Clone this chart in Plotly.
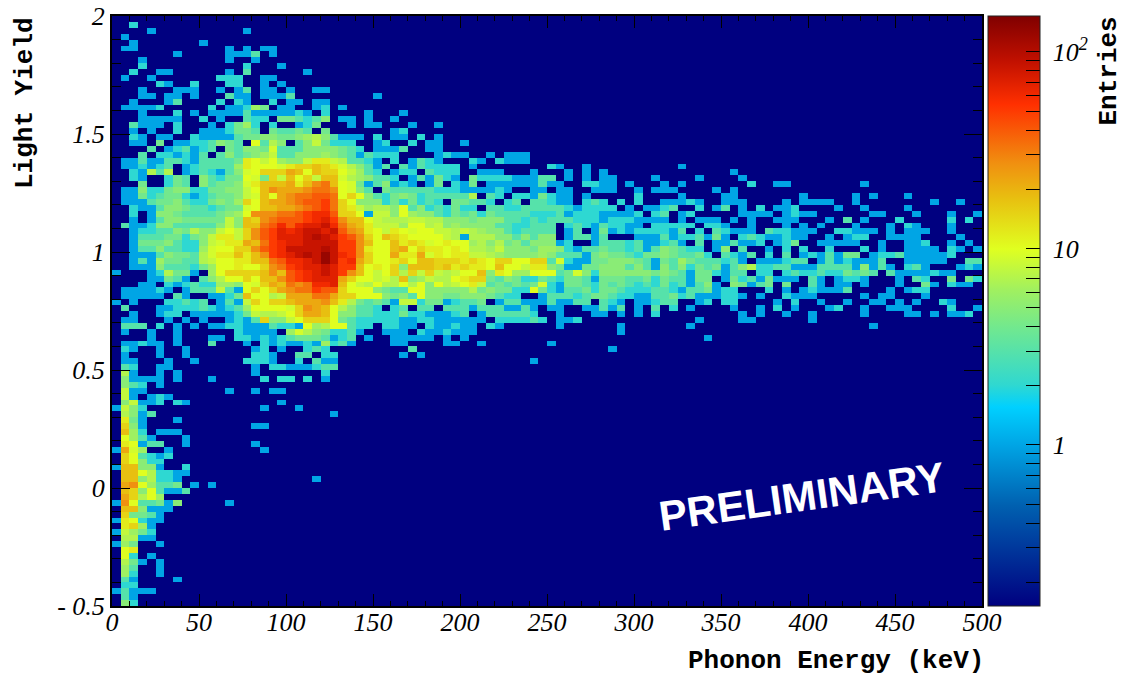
import math
import plotly.graph_objects as go

# One string per y bin, top row first. Space-separated chunks of 10 x bins (5 keV each).
# Short chunks are padded with empty bins. Symbols index into ENTRY_LEVELS.
ROWS = [
"",
"..2",
"....1..... .....1",
".1",
"..1....... 1",
".11....... ...1.1.11",
".......1.. ...1113.1.",
"...1...... ...1..1...",
"...2...... .....2...1",
"..2..11... ...1.3.... ..1",
".1..1..... ..222..11.",
".....21..2 ...22..1.1",
"...1...111 ..1.13.11. 1..11.....",
"...11.11.1 ...311.111 3......... 1",
"..1...13.. ..2.21..2. 11.11.....",
".11112.... .2.11264.1 1..12.1...",
"...1...2.1 .111131111 121.2....1 ...1",
"...11111.. 2.1..322.4 43235.11.1 ..1",
"..3111.2.. .1.2462.2. .124...1.1 1...1..1",
"..1.1..2.. 1112443.43 343.4..... ..12",
"..21.11..2 1111344554 456753111. 2.11.2.1",
"..11.4.112 23543.a375 .3584222.. 12..2.11.. 1",
"....3.1231 23.4355493 335555432. 1113..11..",
"...3.22121 3.35345683 3555654313 222....121 1..1.111",
".113113321 33334ba8a6 558bb87332 1.2.1321.. .21.2111..",
".112123.12 33336baaa9 bccdcb9753 13.3132222 .1 21..1 .....1",
"..21737.12 321359accc edadcca863 2.122.3222 ..111...1. ..1.1.1 . .1",
"..21..243. 53244a94c8 dac8dd9765 332.131421 .422221113 3.1.1.11 ..1....1 ..1",
"...4..243. 534459bddd ebdfgda941 35121.14.2 14.1111113 11..2211.1 ...1.1 ...2..11 ......1",
".115224552 244558adfe eefggfa953 .433333222 111121..11 .11..111 1.111....1 .1",
".114234421 2344589dae fgghhgaca5 3245423333 37.32.2214 211.1 2....1 11.......1 .....1.1 .1",
".111344532 24546cadee fghhigca55 52424232.4 4332.23.33 211.232.2. 2..11121 111....1.1 111..1 ....1..1",
"..21135543 323449adde efghigcb86 775a352324 22.3322333 33212222.1 .1123..2.1 3.1.2.112 ...1..1 .1",
"..2.155433 33456afffg ghijjhcca1 885a655324 3424333322 2312221111 2.23.12 ..1111.121 1......11 ..1...1..1",
"..1.135544 44485dcfgh hhijkifdda 8777887755 5455533232 3332221222 1111.1.111 .1.1..111 ..1.3.1 2.....2.2",
".311255333 33585ddghj hjkkljgedb 8886aa7856 5555332233 3.23213221 1.22222.22 1..1...1.1 .1...1...1 .21...1",
"..12233547 558a8cfhik jkllklhfeb a8ba9aa887 8765532333 3.13.14121 222213.2.3 2111.32211 1..22111.1 .111..1",
"..13334424 58bb8cfhik kklmlkihfc adcbaaaa87 1777553535 5.13313... 1113122314 1.23211211 ..1.122..1 111....1",
"..14445322 589bbedgij kklllliifd aadbcb9aba a675745355 512..13332 311231.3.1 13112.124. .11111..1. .112..1.1",
"..13353322 69aaccfhij llllmliifb aadeacbbab a776855546 6521334332 31354322.1 5.3..1.2.2 ..2...2.1 .1111.21.1",
"..11135443 79bbdbdfij klmlnljifc aaebbe9bab b887655556 5333145443 244543342. 3213.2.3.1 213144.122 3111112",
"..13164433 78aabbddgh jjklnlijec aabcaddccc bcbaccaacc 3921144555 4314364333 231.111233 .13121113. .11111..33",
"..11153332 46aabaacfg ijkklkiida bac5dddcdb cbbadaa8bb 5411445553 5315352434 1357223311 1333315131 .231...121",
"1...127441 .6accccdfd hijklkifda 8ac7c8c878 aad5ba66aa a349525555 5545431442 133.22.232 23224343.3 1111211",
"....11431. 357aacaddf hijkkkecaa 897d56877a bcc4354224 3244314443 342433144. 142314111. 31.1221 1.32..4.42",
"...11.2123 22665a9ced gfgjjkda87 a77a7a5a78 ab83434349 2144324343 2324231351 .54134.4 31.11.1 1..41.211",
".111121.13 33831acace fggihhcaaa 5433aa5555 57454422a4 2133424432 2233213341 22...2.1.1 21113....1 .122",
".11111.31. .1124daa78 eeeggeccaa a5453a5544 5554322..1 3332344322 1133423111 221.1..211 1.....1.11 ...1",
"1.1...2232 3.1318cacc deeefdb743 4318824412 334.133111 31133.321. 11233..12. 22....1.2. .1..1..11. 1.1..21",
".3...11222 321236aaaa 9cfeda7533 2.23.33.33 313331131. 11..11313. 1.3.2.1... .1..1.2.1. ..12..1..1 11....2..1",
"..1..122.1 1111248778 aceeda5533 2224221112 3.1333332. .1...11.1. 1.2....... ..1.1..1 1.....1 .11.1.112",
".11...1.1. 1..1213c55 8accca4322 2221122111 111.222232 .112 .......1 ..11 1",
".333.2.1.1 .112211132 21a67aa322 .2211.2112 11.21 .1......1 ......1 . .......1",
".1..1..1.. ....21111. 697542231. .111.21121 11 ........1",
"....1..1.. .11.221212 34443123.1 ..11111.1 1 . ........1",
".11211.1 .3...1.212 11216231.. ..11....11 ..1 1",
".21..1..1. ......12.1 ..232 ....3 . .......1",
".1...1..1. ......221. .33.22 ...1.1",
".11...1..1 .....2221 .2.311 . ........1",
".32..11 ......1.22 111233",
".71..1.1 ......1 ....2",
".51111.1 .1.....2.2 2.2.1",
".532.1",
".811 ...1..1.11",
".81.121",
".58112.21 .........1",
"1852 .......1 .1",
".7513 . .....1",
".b41...1",
".c51 ......11",
".d62.111",
".a631...1",
".ba133..1 ......1",
"1e96..1 .......1",
".ca3212...1",
".ca522",
"1dd551..2.1",
".dda72211",
".dd57221 . ...1",
".efa6334.1 .1",
".dc5a3113",
".ec7a6",
"1fa33415 ...1",
".dd5111",
".c4431",
"1ba211",
".bc61",
"18642",
".7711",
"164..1",
".ab",
".a2.1",
".741.1",
".63..1",
".62..1",
".31....1",
".22",
"13111",
".31",
".52",
]

ENTRY_LEVELS = {
    ".": None, "1": 1, "2": 2, "3": 3, "4": 4, "5": 5, "6": 6, "7": 7, "8": 8, "9": 9,
    "a": 10, "b": 12, "c": 15, "d": 18, "e": 22, "f": 27, "g": 33, "h": 40, "i": 50,
    "j": 60, "k": 70, "l": 85, "m": 100, "n": 125,
}

X_EDGES_MAX = 500
Y_MIN, Y_MAX = -0.5, 2.0
N_BINS = 100
X_TICKS = [0, 50, 100, 150, 200, 250, 300, 350, 400, 450, 500]
Y_TICKS = [-0.5, 0, 0.5, 1, 1.5, 2]
Y_TICK_TEXT = ["- 0.5", "0", "0.5", "1", "1.5", "2"]
CB_MAJOR = [1, 10, 100]
CB_MAJOR_TEXT = ["\u00a01", "\u00a010", "\u00a010<sup>2</sup>"]
CB_MINOR = [0.2, 0.3, 0.4, 0.5, 0.6, 0.7, 0.8, 0.9, 2, 3, 4, 5, 6, 7, 8, 9,
            20, 30, 40, 50, 60, 70, 80, 90]
LOG_MIN, LOG_MAX = -0.82, 2.183

COLORSCALE = [
    [0.0, "#000080"], [0.17, "#0060b0"], [0.273, "#00a5e5"], [0.337, "#00d0ff"],
    [0.375, "#30d8d0"], [0.47, "#70e890"], [0.535, "#a0f060"], [0.605, "#e0ff20"],
    [0.69, "#e8c010"], [0.75, "#f09010"], [0.85, "#ff3000"], [0.925, "#c01000"],
    [1.0, "#800000"],
]

W, H = 1124, 676
L, R, T, B = 112, 982, 16, 606


def decode(row):
    chunks = row.split(" ") if row else []
    cells = []
    for i in range(10):
        chunk = (chunks[i] if i < len(chunks) else "").ljust(10, ".")[:10]
        cells.extend(ENTRY_LEVELS[ch] for ch in chunk)
    return cells


grid = [decode(r) for r in ROWS]
grid += [[None] * N_BINS for _ in range(N_BINS - len(grid))]
z = [[None if v is None else math.log10(v) for v in row] for row in reversed(grid)]
x_centers = [(i + 0.5) * X_EDGES_MAX / N_BINS for i in range(N_BINS)]
y_centers = [Y_MIN + (i + 0.5) * (Y_MAX - Y_MIN) / N_BINS for i in range(N_BINS)]

cb_vals = [math.log10(v) for v in CB_MINOR + CB_MAJOR]
cb_text = [""] * len(CB_MINOR) + CB_MAJOR_TEXT

SERIF = "Liberation Serif"
MONO = "Liberation Mono"

fig = go.Figure(go.Heatmap(
    x=x_centers, y=y_centers, z=z,
    zmin=LOG_MIN, zmax=LOG_MAX, colorscale=COLORSCALE, hoverongaps=False,
    colorbar=dict(
        thickness=52, thicknessmode="pixels", len=B - T, lenmode="pixels",
        x=(988 - L) / (R - L), xanchor="left", xpad=0,
        y=0, yanchor="bottom", ypad=0,
        outlinecolor="#222222", outlinewidth=1, bordercolor="rgba(0,0,0,0)",
        tickmode="array", tickvals=cb_vals, ticktext=cb_text,
        ticks="inside", ticklen=14, tickwidth=1, tickcolor="black",
        tickfont=dict(family=SERIF, size=26, style="italic", color="black"),
    ),
))

axis_common = dict(showgrid=False, zeroline=False, showline=True, linecolor="black",
                   linewidth=2, mirror="allticks", ticks="inside", tickcolor="black",
                   tickwidth=1,
                   tickfont=dict(family=SERIF, size=26, style="italic", color="black"))
fig.update_xaxes(range=[0, 500], tickmode="array", tickvals=X_TICKS, ticklen=12,
                 ticklabelstandoff=-8,
                 minor=dict(dtick=10, tick0=0, ticks="inside", ticklen=5,
                            tickcolor="black", tickwidth=1, showgrid=False),
                 **axis_common)
fig.update_yaxes(range=[Y_MIN, Y_MAX], tickmode="array", tickvals=Y_TICKS,
                 ticktext=Y_TICK_TEXT, ticklen=18,
                 minor=dict(dtick=0.1, tick0=0, ticks="inside", ticklen=9,
                            tickcolor="black", tickwidth=1, showgrid=False),
                 **axis_common)

px = lambda v: (v - L) / (R - L)
py = lambda v: (B - v) / (B - T)
mono = dict(family=MONO, size=26, color="black", weight="bold")
annotations = [
    dict(text="Phonon Energy (keV)", xref="paper", yref="paper", x=px(986), y=py(661),
         xanchor="right", yanchor="middle", showarrow=False, font=mono),
    dict(text="Light Yield", xref="paper", yref="paper", x=px(25), y=py(15),
         xanchor="center", yanchor="top", textangle=-90, showarrow=False, font=mono),
    dict(text="Entries", xref="paper", yref="paper", x=px(1109), y=py(15),
         xanchor="center", yanchor="top", textangle=-90, showarrow=False, font=mono),
    dict(text="PRELIMINARY", xref="x", yref="y", x=396.6, y=-0.038, textangle=-8,
         showarrow=False,
         font=dict(family="Liberation Sans", size=42, color="white", weight="bold")),
]
shapes = [
    dict(type="line", xref="paper", yref="paper", x0=px(1012), x1=px(1040),
         y0=(math.log10(v) - LOG_MIN) / (LOG_MAX - LOG_MIN),
         y1=(math.log10(v) - LOG_MIN) / (LOG_MAX - LOG_MIN),
         line=dict(color="black", width=1))
    for v in CB_MAJOR
]

fig.update_layout(
    width=W, height=H, autosize=False,
    margin=dict(l=L, r=W - R, t=T, b=H - B, pad=0, autoexpand=False),
    paper_bgcolor="white", plot_bgcolor="#000080",
    annotations=annotations, shapes=shapes,
)

fig.write_html("out.html", config={"displayModeBar": False},
               post_script="document.body.style.margin='0';")
